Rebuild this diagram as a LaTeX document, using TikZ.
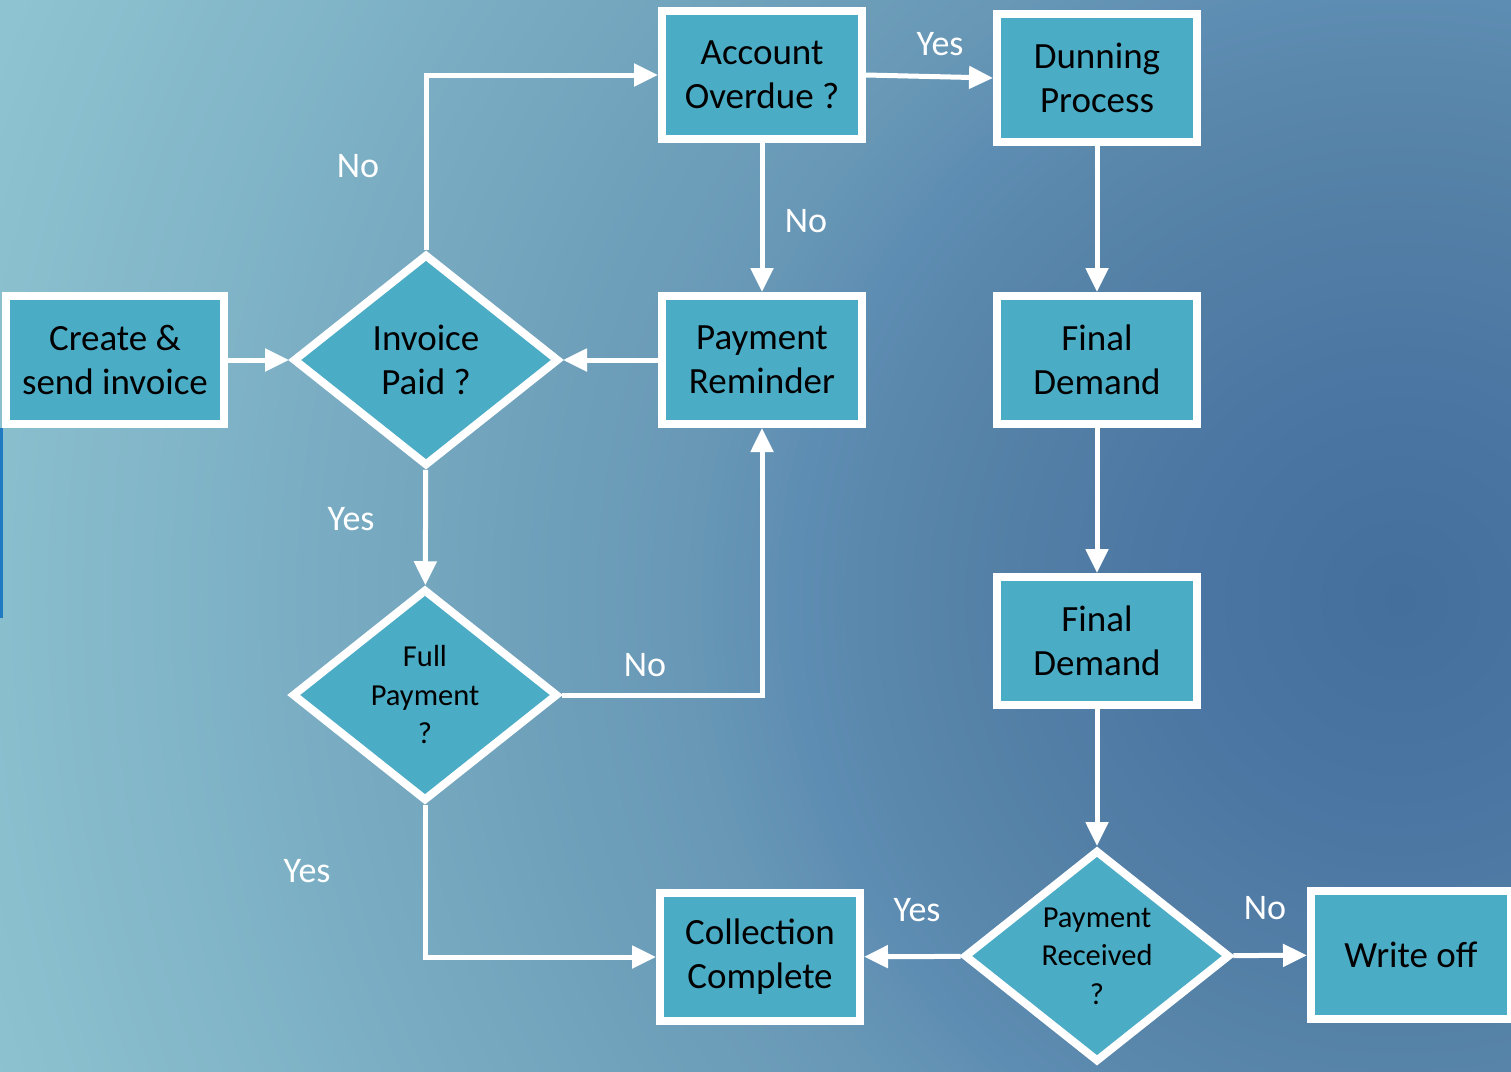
\documentclass[tikz,border=0pt]{standalone}
\usepackage{fontspec}
\setmainfont{Carlito}
\usetikzlibrary{arrows.meta, shapes.geometric}
\definecolor{boxfill}{HTML}{4BACC6}
\definecolor{bgzero}{HTML}{446E9B}
\definecolor{bgone}{HTML}{4A74A2}
\definecolor{bgtwo}{HTML}{5784A8}
\definecolor{bgthree}{HTML}{5E8DB3}
\definecolor{bgfour}{HTML}{6797B5}
\definecolor{bglight}{HTML}{8EC4D1}
\definecolor{edgeblue}{HTML}{1F7AC2}
\pgfdeclareradialshading{slidebg}{\pgfpoint{0bp}{0bp}}{%
  color(0bp)=(bgzero); color(3bp)=(bgone); color(7.5bp)=(bgtwo);
  color(9.5bp)=(bgthree); color(11bp)=(bgfour); color(23.5bp)=(bglight);
  color(50bp)=(bglight)}

\begin{document}
\begin{tikzpicture}[
  x=1pt, y=-1pt,
  box/.style={draw=white, line width=8pt, fill=boxfill, minimum width=200pt, minimum height=128pt,
    inner sep=0pt, align=center, font=\fontsize{37}{44}\selectfont},
  decision/.style={diamond, draw=white, line width=8pt, fill=boxfill, minimum width=266pt, minimum height=212pt,
    inner sep=0pt, align=center, font=\fontsize{37}{44}\selectfont},
  small/.style={font=\fontsize{30.5}{38.5}\selectfont},
  lbl/.style={text=white, font=\fontsize{36}{40}\selectfont},
  arr/.style={draw=white, line width=5pt, -{Triangle[length=24pt, width=22pt]}}
]
\useasboundingbox (0,0) rectangle (1511,1071);
% slide background
\begin{scope}
  \clip (0,0) rectangle (1511,1071);
  \shade[shading=slidebg] (-200,-1000) rectangle (3000,2200);
\end{scope}
\fill[edgeblue] (0,428) rectangle (2.5,618);

\node[box, minimum width=218pt] (create) at (115,360) {Create \&\\send invoice};
\node[decision] (paid) at (426,360) {Invoice\\Paid ?};
\node[box] (overdue) at (762,75) {Account\\Overdue ?};
\node[box] (remind) at (762,360) {Payment\\Reminder};
\node[box] (dunning) at (1097,78) {Dunning\\Process};
\node[box] (final1) at (1097,360) {Final\\Demand};
\node[box] (final2) at (1097,641) {Final\\Demand};
\node[decision, small] (full) at (425,695) {Full\\Payment\\?};
\node[decision, small] (received) at (1097,956) {Payment\\Received\\?};
\node[box] (complete) at (760,957) {Collection\\Complete};
\node[box] (writeoff) at (1411,955) {Write off};

\draw[arr] (create) -- (paid);
\draw[arr] (paid.north) |- (overdue.west);
\draw[arr] (overdue) -- (remind);
\draw[arr] (overdue.east) -- (dunning.west);
\draw[arr] (remind) -- (paid);
\draw[arr] (paid) -- (full);
\draw[arr] (full.east) -| (remind.south);
\draw[arr] (full.south) |- (complete.west);
\draw[arr] (dunning) -- (final1);
\draw[arr] (final1) -- (final2);
\draw[arr] (final2) -- (received);
\draw[arr] (received) -- (complete);
\draw[arr] (received) -- (writeoff);

\node[lbl] (nopaid) at (358,166) {No};
\node[lbl] (nooverdue) at (806,221) {No};
\node[lbl] (yesoverdue) at (940,44) {Yes};
\node[lbl] (yespaid) at (351,519) {Yes};
\node[lbl] (nofull) at (645,665) {No};
\node[lbl] (yesfull) at (307,871) {Yes};
\node[lbl] (yesreceived) at (917,910) {Yes};
\node[lbl] (noreceived) at (1265,908) {No};
\end{tikzpicture}
\end{document}
